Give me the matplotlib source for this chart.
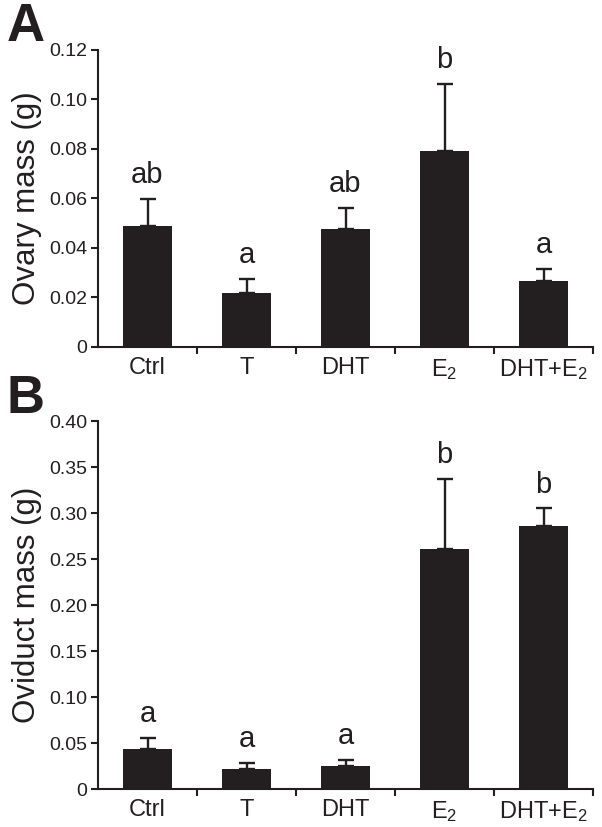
import matplotlib
matplotlib.use('Agg')
import matplotlib.pyplot as plt
import numpy as np

plt.rcParams['font.family'] = ['Liberation Sans', 'DejaVu Sans']
plt.rcParams['mathtext.fontset'] = 'custom'
plt.rcParams['mathtext.rm'] = 'Liberation Sans'
plt.rcParams['mathtext.default'] = 'regular'

groups = ['Ctrl', 'T', 'DHT', r'E$_{2}$', r'DHT+E$_{2}$']

ovary_mean = [0.049, 0.0218, 0.0477, 0.0792, 0.0267]
ovary_err = [0.0108, 0.0057, 0.0085, 0.0271, 0.0048]
ovary_sig = ['ab', 'a', 'ab', 'b', 'a']

oviduct_mean = [0.0435, 0.0217, 0.025, 0.261, 0.286]
oviduct_err = [0.0119, 0.0066, 0.0065, 0.076, 0.019]
oviduct_sig = ['a', 'a', 'a', 'b', 'b']

bar_col = '#231f20'

fig = plt.figure(figsize=(6.02, 8.27), dpi=100)
W, H = 602.0, 827.0
axA = fig.add_axes([98 / W, (H - 347) / H, (593 - 98) / W, (347 - 50) / H])
axB = fig.add_axes([98 / W, (H - 789) / H, (593 - 98) / W, (789 - 421) / H])


def draw(ax, mean, err, sig, ymax, yticks, ylabels, ylabel):
    x = np.arange(len(groups))
    ax.bar(x, mean, width=0.5, color=bar_col, zorder=2)
    ax.errorbar(x, mean, yerr=[np.zeros(len(err)), err], fmt='none',
                ecolor=bar_col, elinewidth=1.7, capsize=5.5, capthick=1.7, zorder=1)
    for xi, m, e, s in zip(x, mean, err, sig):
        ax.annotate(s, (xi, m + e), xytext=(0, 7), textcoords='offset points',
                    ha='center', va='bottom', fontsize=21, color=bar_col)
    ax.set_xlim(-0.5, len(groups) - 0.5)
    ax.set_ylim(0, ymax)
    ax.set_yticks(yticks)
    ax.set_yticklabels(ylabels, fontsize=14, color=bar_col)
    ax.set_xticks(x)
    ax.set_xticklabels(groups, fontsize=17, color=bar_col)
    ax.set_xticks(np.arange(len(groups)) + 0.5, minor=True)
    ax.tick_params(axis='x', which='major', length=0, pad=7)
    ax.tick_params(axis='x', which='minor', length=5, width=1.5, color=bar_col)
    ax.tick_params(axis='y', length=5, width=1.5, color=bar_col, pad=3)
    ax.set_ylabel(ylabel, fontsize=22.5, color=bar_col, labelpad=5)
    for sp in ['top', 'right']:
        ax.spines[sp].set_visible(False)
    for sp in ['left', 'bottom']:
        ax.spines[sp].set_linewidth(1.5)
        ax.spines[sp].set_color(bar_col)


draw(axA, ovary_mean, ovary_err, ovary_sig, 0.12,
     [0, 0.02, 0.04, 0.06, 0.08, 0.10, 0.12],
     ['0', '0.02', '0.04', '0.06', '0.08', '0.10', '0.12'], 'Ovary mass (g)')
draw(axB, oviduct_mean, oviduct_err, oviduct_sig, 0.40,
     [0, 0.05, 0.10, 0.15, 0.20, 0.25, 0.30, 0.35, 0.40],
     ['0', '0.05', '0.10', '0.15', '0.20', '0.25', '0.30', '0.35', '0.40'],
     'Oviduct mass (g)')

fig.text(7 / W, 1 - 41 / H, 'A', fontsize=38, fontweight='bold', color=bar_col)
fig.text(7 / W, 1 - 413 / H, 'B', fontsize=38, fontweight='bold', color=bar_col)

fig.savefig('out.png', dpi=100)
